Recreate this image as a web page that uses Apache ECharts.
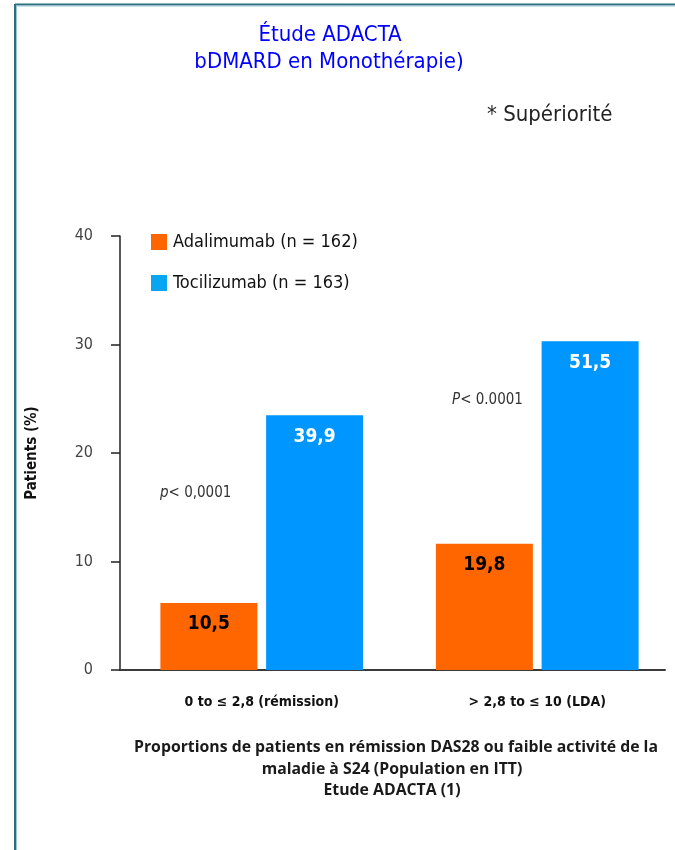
<!DOCTYPE html>
<html>
<head>
<meta charset="utf-8">
<script src="https://cdn.jsdelivr.net/npm/echarts@6/dist/echarts.min.js"></script>
<style>
  html, body { margin: 0; padding: 0; background: #ffffff; }
  #chart { width: 675px; height: 850px; }
</style>
</head>
<body>
<div id="chart"></div>
<script>
// Catégories DAS28 et proportions de patients (%)
const categories = ['0 to ≤ 2,8 (rémission)', '> 2,8 to ≤ 10 (LDA)'];
const seriesNames = ['Adalimumab (n = 162)', 'Tocilizumab (n = 163)'];
const adalimumab = [10.5, 19.8];
const tocilizumab = [39.9, 51.5];
const yTicks = [0, 10, 20, 30, 40];
const pValues = ['p', '< 0,0001', 'P', '< 0.0001'];
const titleLines = ['Étude ADACTA', 'bDMARD en Monothérapie)'];
const captionLines = [
  'Proportions de patients en rémission DAS28 ou faible activité de la',
  'maladie à S24 (Population en ITT)',
  'Etude ADACTA (1)'
];

const COND = "'Liberation Sans Narrow', 'DejaVu Sans Condensed', 'Roboto', sans-serif";
const CAPTION_FONT = "bold 15.8px 'Open Sans', Lato, sans-serif";
const ORANGE = '#ff6600';
const BLUE = '#0096ff';

const fmt = v => v.toFixed(1).replace('.', ',');

const chart = echarts.init(document.getElementById('chart'), null, { renderer: 'canvas' });

const option = {
  backgroundColor: '#ffffff',
  animation: false,
  legend: {
    orient: 'vertical',
    left: 146,
    top: 228,
    itemWidth: 16,
    itemHeight: 16,
    itemGap: 23,
    icon: 'rect',
    textStyle: { fontFamily: COND, fontSize: 18, color: '#111', padding: [0, 0, 0, 1] },
    data: [
      { name: seriesNames[0], itemStyle: { color: ORANGE } },
      { name: seriesNames[1], itemStyle: { color: '#08a6f2' } }
    ]
  },
  grid: [
    { left: 120, right: 10, top: 236, bottom: 180 },
    { left: 124, right: -4, top: 236, bottom: 180 }
  ],
  xAxis: [
    {
      type: 'category', gridIndex: 0, data: categories,
      axisLine: { show: true, lineStyle: { color: '#3a3a3a', width: 2 } },
      axisTick: { show: false }, axisLabel: { show: false }, splitLine: { show: false }
    },
    {
      type: 'category', gridIndex: 1, data: categories,
      axisLine: { show: false }, axisTick: { show: false },
      axisLabel: { fontFamily: COND, fontSize: 14, fontWeight: 'bold', color: '#111', margin: 25 }
    }
  ],
  yAxis: [
    {
      type: 'value', gridIndex: 0, min: yTicks[0], max: yTicks[yTicks.length - 1], interval: 10,
      name: 'Patients (%)', nameLocation: 'middle', nameGap: 80, nameRotate: 90,
      nameTextStyle: { fontFamily: COND, fontSize: 15, fontWeight: 'bold', color: '#111' },
      axisLine: { show: true, lineStyle: { color: '#222', width: 1.5 } },
      axisTick: { show: true, length: 9, lineStyle: { color: '#222', width: 1.5 } },
      axisLabel: { fontFamily: COND, fontSize: 16, color: '#444', margin: 27 },
      splitLine: { show: false }
    },
    {
      type: 'value', gridIndex: 1, min: 0, max: 68, show: false,
      splitLine: { show: false }
    }
  ],
  series: [
    {
      name: seriesNames[0], type: 'bar', xAxisIndex: 1, yAxisIndex: 1,
      data: adalimumab, barWidth: 97, barGap: '9%',
      itemStyle: { color: ORANGE },
      label: {
        show: true, position: 'insideTop', distance: 12,
        formatter: p => fmt(p.value),
        fontFamily: COND, fontSize: 19, fontWeight: 'bold', color: '#000'
      }
    },
    {
      name: seriesNames[1], type: 'bar', xAxisIndex: 1, yAxisIndex: 1,
      data: tocilizumab, barWidth: 97, barGap: '9%',
      itemStyle: { color: BLUE },
      label: {
        show: true, position: 'insideTop', distance: 12,
        formatter: p => fmt(p.value),
        fontFamily: COND, fontSize: 19, fontWeight: 'bold', color: '#fff'
      }
    }
  ],
  graphic: [
    // cadre
    { type: 'line', shape: { x1: 15, y1: 4.5, x2: 675, y2: 4.5 }, style: { stroke: '#2d6f80', lineWidth: 2 } },
    { type: 'line', shape: { x1: 15, y1: 4, x2: 15, y2: 850 }, style: { stroke: '#2d6f80', lineWidth: 2 } },
    { type: 'line', shape: { x1: 16.5, y1: 6, x2: 675, y2: 6 }, style: { stroke: '#9cc6d0', lineWidth: 1 } },
    { type: 'line', shape: { x1: 16.5, y1: 6, x2: 16.5, y2: 850 }, style: { stroke: '#9cc6d0', lineWidth: 1 } },
    // titre
    {
      type: 'text', x: 330, y: 35,
      style: { text: titleLines[0], fill: '#0000ff', font: "22px " + COND, textAlign: 'center', textVerticalAlign: 'middle' }
    },
    {
      type: 'text', x: 329, y: 62,
      style: { text: titleLines[1], fill: '#0000ff', font: "22px " + COND, textAlign: 'center', textVerticalAlign: 'middle' }
    },
    {
      type: 'text', x: 487, y: 115,
      style: { text: '* Supériorité', fill: '#222', font: "22px " + COND, textAlign: 'left', textVerticalAlign: 'middle' }
    },
    // valeurs p
    {
      type: 'text', x: 160, y: 493,
      style: {
        text: '{i|' + pValues[0] + '}{n|' + pValues[1] + '}',
        textVerticalAlign: 'middle',
        rich: {
          i: { fontFamily: COND, fontSize: 15, fontStyle: 'italic', fill: '#333' },
          n: { fontFamily: COND, fontSize: 15, fill: '#333' }
        }
      }
    },
    {
      type: 'text', x: 452, y: 400,
      style: {
        text: '{i|' + pValues[2] + '}{n|' + pValues[3] + '}',
        textVerticalAlign: 'middle',
        rich: {
          i: { fontFamily: COND, fontSize: 15, fontStyle: 'italic', fill: '#333' },
          n: { fontFamily: COND, fontSize: 15, fill: '#333' }
        }
      }
    },
    // légende du graphique
    {
      type: 'text', x: 396, y: 747,
      style: { text: captionLines[0], fill: '#1a1a1a', font: CAPTION_FONT, textAlign: 'center', textVerticalAlign: 'middle' }
    },
    {
      type: 'text', x: 392, y: 769,
      style: { text: captionLines[1], fill: '#1a1a1a', font: CAPTION_FONT, textAlign: 'center', textVerticalAlign: 'middle' }
    },
    {
      type: 'text', x: 392, y: 790,
      style: { text: captionLines[2], fill: '#1a1a1a', font: CAPTION_FONT, textAlign: 'center', textVerticalAlign: 'middle' }
    }
  ]
};

chart.setOption(option);
</script>
</body>
</html>
